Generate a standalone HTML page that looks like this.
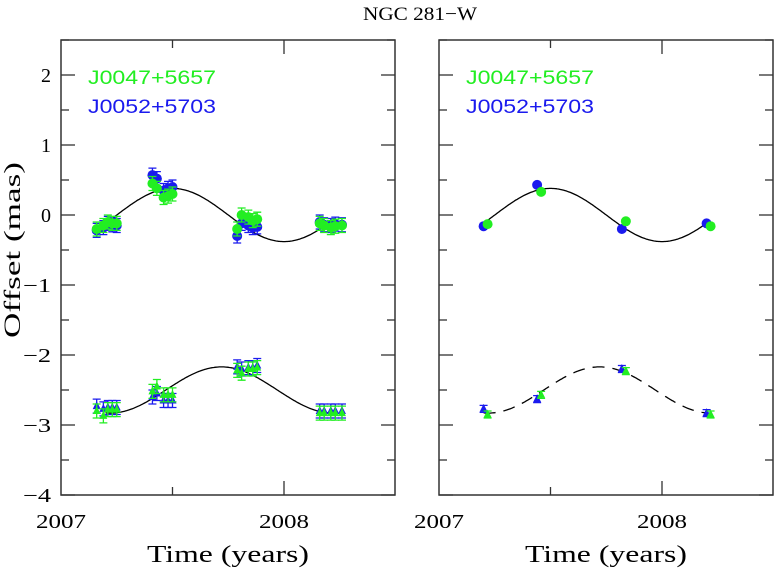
<!DOCTYPE html>
<html><head><meta charset="utf-8"><style>
body{margin:0;background:#fff}
svg text{font-family:"Liberation Serif",serif}
</style></head><body>
<svg id="c" width="774" height="569" xmlns="http://www.w3.org/2000/svg">
<text x="420" y="20" text-anchor="middle" font-size="19" textLength="114" lengthAdjust="spacingAndGlyphs">NGC 281−W</text>
<text transform="translate(20,250) rotate(-90)" text-anchor="middle" font-size="23" textLength="176" lengthAdjust="spacingAndGlyphs">Offset (mas)</text>
</svg>
<script>
const ticksY=[2,1,0,-1,-2,-3,-4];
const ticksX=[2007,2008];
// left panel data
const yrsL=[2007.16,2007.19,2007.21,2007.23,2007.25,2007.41,2007.43,2007.46,2007.48,2007.50,2007.79,2007.81,2007.84,2007.86,2007.88,2008.16,2008.18,2008.21,2008.23,2008.26];
const upGreenL=[-0.2,-0.15,-0.1,-0.12,-0.12,0.45,0.38,0.25,0.27,0.3,-0.2,0,-0.03,-0.08,-0.06,-0.12,-0.15,-0.18,-0.16,-0.15];
const upBlueL=[-0.22,-0.18,-0.12,-0.14,-0.15,0.57,0.52,0.35,0.38,0.4,-0.3,-0.12,-0.15,-0.18,-0.17,-0.1,-0.14,-0.15,-0.13,-0.14];
const loGreenL=[-2.8,-2.87,-2.78,-2.78,-2.78,-2.52,-2.45,-2.57,-2.57,-2.57,-2.22,-2.26,-2.2,-2.2,-2.18,-2.83,-2.83,-2.83,-2.83,-2.83];
const loBlueL=[-2.73,-2.77,-2.75,-2.75,-2.75,-2.6,-2.55,-2.65,-2.65,-2.65,-2.17,-2.2,-2.18,-2.18,-2.15,-2.8,-2.8,-2.8,-2.8,-2.8];
// right panel data
const yrsR=[2007.2,2007.44,2007.82,2008.2];
const upBlueR=[-0.16,0.43,-0.2,-0.12];
const upGreenR=[-0.13,0.33,-0.09,-0.16];
const loBlueR=[-2.77,-2.63,-2.2,-2.83];
const loGreenR=[-2.85,-2.57,-2.23,-2.85];
const upFit={amp:0.38,center:0,peak:2007.5};
const loFit={amp:0.33,center:-2.5,peak:2007.72};

const svg=document.getElementById('c');
const NS='http://www.w3.org/2000/svg';
function mk(t,a,p){const e=document.createElementNS(NS,t);for(const k in a)e.setAttribute(k,a[k]);(p||svg).appendChild(e);return e;}
const yS=v=>215-70*v;
const GREEN='#22ee22',BLUE='#1a1aee';
function panel(x0,showY,name){
  const xS=t=>x0+(t-2007)*223;
  const g=mk('g',{});
  
  
  const fr=mk('rect',{x:x0,y:40,width:334,height:455,fill:'none',stroke:'#333','stroke-width':1.5},g);
  
  
  for(let v=-4;v<=2.5;v+=0.5){
    const L=(Math.abs(v-Math.round(v))<1e-6)?14:8;
    mk('line',{x1:x0,x2:x0+L,y1:yS(v),y2:yS(v),stroke:'#333','stroke-width':1.3},g);
    mk('line',{x1:x0+334-L,x2:x0+334,y1:yS(v),y2:yS(v),stroke:'#333','stroke-width':1.3},g);
  }
  for(let t=2007.5;t<2008.5;t+=0.5){
    const L=(t%1===0)?14:8;
    mk('line',{x1:xS(t),x2:xS(t),y1:495,y2:495-L,stroke:'#333','stroke-width':1.3},g);
    mk('line',{x1:xS(t),x2:xS(t),y1:40,y2:40+L,stroke:'#333','stroke-width':1.3},g);
  }
  if(showY) ticksY.forEach(v=>{const t=mk('text',{x:x0-10,y:yS(v)+7,'text-anchor':'end','font-size':20},g);t.textContent=(v<0?'−':'')+Math.abs(v);
    if(v<0){t.setAttribute('textLength',28);t.setAttribute('lengthAdjust','spacingAndGlyphs');}
    
    });
  ticksX.forEach(v=>{const t=mk('text',{x:xS(v),y:528,'text-anchor':'middle','font-size':20,textLength:50,lengthAdjust:'spacingAndGlyphs'},g);t.textContent=v;
    
    });
  const xt=mk('text',{x:x0+167,y:562,'text-anchor':'middle','font-size':24,textLength:162,lengthAdjust:'spacingAndGlyphs'},g);xt.textContent='Time (years)';
  
  
  const l1=mk('text',{x:x0+27,y:84,'font-size':19,fill:GREEN,textLength:128,lengthAdjust:'spacingAndGlyphs',style:'font-family:"Liberation Sans",sans-serif'},g);l1.textContent='J0047+5657';
  
  
  const l2=mk('text',{x:x0+27,y:113,'font-size':19,fill:BLUE,textLength:128,lengthAdjust:'spacingAndGlyphs',style:'font-family:"Liberation Sans",sans-serif'},g);l2.textContent='J0052+5703';
  
  
  return {g,xS};
}
function fit(P,f,dash,nm){
  let d='';for(let t=2007.2;t<=2008.2001;t+=0.005){d+=(d?'L':'M')+P.xS(t).toFixed(1)+','+yS(f.center+f.amp*Math.cos(2*Math.PI*(t-f.peak))).toFixed(1);}
  const p=mk('path',{d,fill:'none',stroke:'#000','stroke-width':1.3,'stroke-dasharray':dash?'12,8':'none'},P.g);
  
  
}
function pts(P,xs,ys,col,shape,err,dx,nm){
  xs.forEach((t,i)=>{
    const x=P.xS(t)+dx,y=yS(ys[i]);
    const e=err*70;
    mk('path',{d:`M${x},${y-e}V${y+e}M${x-4},${y-e}H${x+4}M${x-4},${y+e}H${x+4}`,stroke:col,'stroke-width':1.3,fill:'none'},P.g);
    let m;
    if(shape==='c') m=mk('circle',{cx:x,cy:y,r:5,fill:col},P.g);
    else m=mk('path',{d:`M${x},${y-5}L${x+4},${y+3}L${x-4},${y+3}Z`,fill:col},P.g);
    
    
  });
}
const L=panel(61,true,'left-panel');
fit(L,upFit,false,'fit-curve-upper');fit(L,loFit,false,'fit-curve-lower');
pts(L,yrsL,upBlueL,BLUE,'c',0.1,0,'point-upper-j0052');
pts(L,yrsL,upGreenL,GREEN,'c',0.1,0,'point-upper-j0047');
pts(L,yrsL,loBlueL,BLUE,'t',0.1,0,'point-lower-j0052');
pts(L,yrsL,loGreenL,GREEN,'t',0.1,0,'point-lower-j0047');
const R=panel(439,false,'right-panel');
fit(R,upFit,false,'fit-curve-upper');fit(R,loFit,true,'fit-curve-lower');
pts(R,yrsR,upBlueR,BLUE,'c',0.03,0,'point-upper-j0052');
pts(R,yrsR,upGreenR,GREEN,'c',0.03,4,'point-upper-j0047');
pts(R,yrsR,loBlueR,BLUE,'t',0.05,0,'point-lower-j0052');
pts(R,yrsR,loGreenR,GREEN,'t',0.05,4,'point-lower-j0047');
</script>
</body></html>
